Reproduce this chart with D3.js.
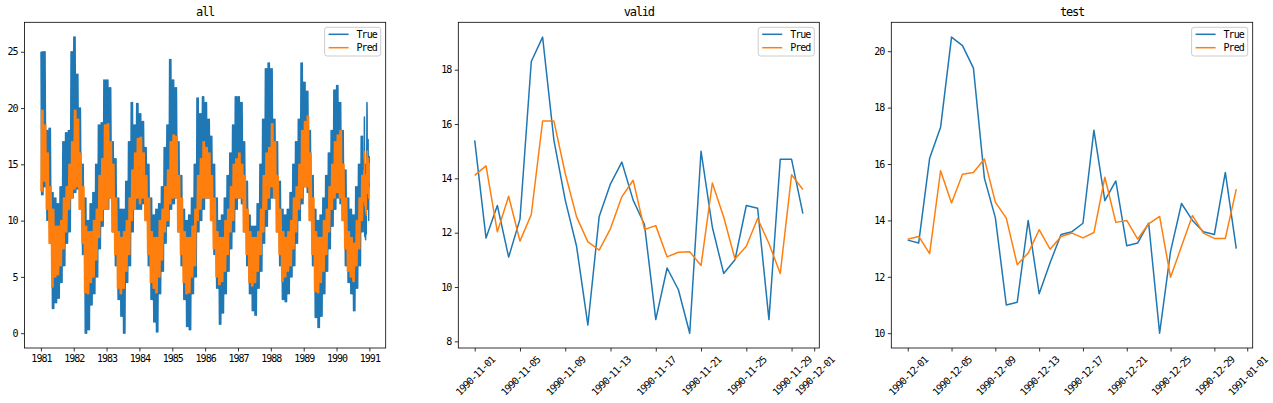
<!DOCTYPE html>
<html><head><meta charset="utf-8">
<script src="https://cdn.jsdelivr.net/npm/d3@7"></script>
<style>
body{margin:0;background:#fff}
text{font-family:"DejaVu Sans Mono",monospace;fill:#000}
</style>
</head><body>
<svg id="c" width="1273" height="403"></svg>
<script>
// ---------------- DATA ----------------
// "all" panel: monthly envelopes (Jan 1981 .. Oct 1990), read from the dense band
const trueHigh = [
 25.0,25.0,18.0,18.2,12.5,12.0,11.5,13.0,17.0,17.8,18.0,25.0,
 26.3,23.0,20.0,15.0,12.0,10.0,11.5,12.5,15.0,18.5,18.7,22.5,
 22.5,21.8,17.0,15.5,12.0,11.0,11.0,13.5,17.0,20.5,18.5,20.4,
 19.5,18.8,16.5,15.0,12.0,10.5,11.0,11.5,13.0,16.5,18.5,24.3,
 22.5,21.8,17.0,14.0,11.0,10.0,10.5,12.0,15.0,20.9,19.5,21.0,
 20.5,19.0,17.5,15.0,12.0,10.0,10.5,12.0,14.0,16.0,18.5,21.0,
 21.0,20.5,17.0,13.5,10.5,9.5,9.5,11.5,15.0,19.0,23.5,24.0,
 23.5,19.0,17.0,13.5,11.0,10.5,11.0,12.5,15.0,17.0,19.0,24.0,
 22.3,21.5,18.0,14.0,11.0,10.0,10.5,12.0,14.0,16.0,18.0,21.6,
 22.0,20.5,18.0,14.5,12.0,11.0,10.5,13.0,15.0,17.5];
const trueLow = [
 12.3,13.0,10.0,8.0,2.2,2.7,3.1,4.5,6.0,8.0,9.0,12.0,
 12.5,12.8,11.0,7.0,0.0,0.3,2.5,3.5,5.0,7.5,9.5,11.0,
 11.0,12.0,9.0,6.0,3.0,1.5,0.0,4.5,6.0,9.0,11.0,11.0,
 11.0,11.5,10.0,6.0,3.0,1.0,0.1,3.5,5.5,8.0,9.5,11.0,
 11.5,12.0,9.0,6.0,3.0,0.6,0.3,3.5,5.0,9.0,10.0,11.0,
 12.0,12.0,10.0,7.0,4.0,0.8,1.8,3.5,5.5,7.5,9.0,11.0,
 12.0,11.5,9.0,6.0,3.5,2.0,1.6,4.0,5.5,8.0,9.5,11.0,
 12.0,12.0,9.0,6.0,3.0,2.8,3.5,5.0,6.0,8.0,10.0,11.5,
 13.0,12.5,10.0,6.0,1.4,0.5,1.5,3.5,5.5,7.5,9.5,11.0,
 12.0,11.5,10.0,6.0,4.5,3.5,2.0,4.0,6.0,9.0];
const predHigh = [
 19.8,18.5,16.0,13.0,11.0,9.5,9.5,10.0,12.0,13.0,15.0,17.0,
 19.8,19.0,16.0,13.0,9.5,9.0,9.0,10.0,11.0,14.0,15.5,18.5,
 18.6,17.0,15.0,12.0,9.0,8.5,9.0,10.0,12.0,14.5,16.0,17.3,
 17.4,16.0,14.0,12.0,9.0,8.5,8.5,10.0,11.0,13.0,14.5,17.0,
 17.6,17.5,14.0,12.0,9.0,8.5,8.5,9.5,11.0,14.0,15.5,17.0,
 16.5,16.0,14.0,12.0,9.0,8.5,8.5,10.0,11.0,13.0,15.0,15.5,
 16.0,15.0,14.0,11.0,9.0,8.5,8.5,9.0,11.0,14.0,16.0,16.5,
 18.6,17.0,14.0,11.0,9.0,8.5,9.0,10.0,12.0,13.0,15.0,18.0,
 18.8,19.3,16.0,12.0,9.0,8.5,8.5,10.0,11.0,13.0,15.0,17.0,
 17.6,18.0,15.0,12.0,9.0,8.5,8.0,10.0,12.0,14.0];
const predLow = [
 12.6,13.5,11.0,8.0,4.1,5.0,5.2,6.0,7.5,9.0,11.0,12.0,
 12.8,13.0,11.0,8.0,3.6,3.5,4.5,5.0,6.5,8.5,10.0,11.0,
 11.0,12.0,9.0,7.0,4.0,3.5,4.0,5.5,7.0,10.0,11.0,12.0,
 11.5,12.0,10.0,7.0,4.5,4.0,3.6,5.0,6.5,9.0,10.0,11.5,
 12.0,12.0,9.0,7.0,4.5,3.5,3.6,5.0,6.0,10.0,11.0,12.0,
 12.0,12.0,10.0,7.5,5.0,4.3,4.6,5.5,7.0,9.0,10.0,12.0,
 12.0,12.0,9.0,7.0,4.5,4.2,4.5,5.5,7.0,9.0,11.0,12.0,
 13.0,12.0,9.0,7.0,4.6,5.0,5.5,6.0,7.5,9.0,11.0,12.0,
 13.0,13.0,10.0,7.0,3.7,3.6,4.5,5.5,7.0,9.0,11.0,12.0,
 12.5,12.0,10.0,7.5,5.5,5.0,4.6,6.0,7.5,10.0];

// "valid" panel: 1990-11-01 .. 1990-11-30
const validStart = "1990-11-01";
const validTrue = [15.4,11.8,13.0,11.1,12.5,18.3,19.2,15.4,13.2,11.5,8.6,12.6,13.8,14.6,13.2,12.3,8.8,10.7,9.9,8.3,15.0,12.2,10.5,11.0,13.0,12.9,8.8,14.7,14.7,12.7];
const validPred = [14.11,14.46,12.03,13.34,11.69,12.67,16.11,16.11,14.18,12.58,11.66,11.36,12.15,13.32,13.93,12.12,12.26,11.11,11.28,11.30,10.79,13.83,12.58,11.03,11.50,12.52,11.60,10.50,14.13,13.59];

// "test" panel: 1990-12-01 .. 1990-12-31
const testStart = "1990-12-01";
const testTrue = [13.3,13.2,16.2,17.3,20.5,20.2,19.4,15.5,14.1,11.0,11.1,14.0,11.4,12.5,13.5,13.6,13.9,17.2,14.7,15.4,13.1,13.2,13.9,10.0,12.9,14.6,14.0,13.6,13.5,15.7,13.0];
const testPred = [13.33,13.43,12.82,15.76,14.62,15.64,15.70,16.18,14.65,14.08,12.43,12.84,13.67,12.98,13.43,13.55,13.38,13.57,15.53,13.93,14.00,13.34,13.88,14.14,11.98,13.08,14.17,13.55,13.36,13.36,15.11];

// tick labels
const allXTicks = ["1981","1982","1983","1984","1985","1986","1987","1988","1989","1990","1991"];
const allYTicks = [0,5,10,15,20,25];
const validXTicks = ["1990-11-01","1990-11-05","1990-11-09","1990-11-13","1990-11-17","1990-11-21","1990-11-25","1990-11-29","1990-12-01"];
const validYTicks = [8,10,12,14,16,18];
const testXTicks = ["1990-12-01","1990-12-05","1990-12-09","1990-12-13","1990-12-17","1990-12-21","1990-12-25","1990-12-29","1991-01-01"];
const testYTicks = [10,12,14,16,18,20];
const titles = ["all","valid","test"];
const seriesNames = ["True","Pred"];
const allRange = ["1981-01-01","1990-12-31"];

// ---------------- BUILD ----------------
const parse = d3.utcParse("%Y-%m-%d");
const dayAdd = (s, i) => d3.utcDay.offset(parse(s), i);
function daily(start, arr){ return arr.map((v,i)=>({d:dayAdd(start,i), v})); }

// each month's envelope is traced as a zigzag between its high and low
const zigDays = [2,9,16,24];
const allTrue = [], allPred = [];
trueHigh.forEach((h,i)=>{
  const yr = 1981 + Math.floor(i/12), m = i%12;
  zigDays.forEach((dd,j)=>{
    const dt = new Date(Date.UTC(yr,m,dd));
    allTrue.push({d:dt, v: j%2 ? trueLow[i] : h});
    allPred.push({d:dt, v: j%2 ? predHigh[i] : predLow[i]});
  });
});
allTrue.push(...daily(validStart, validTrue), ...daily(testStart, testTrue));
allPred.push(...daily(validStart, validPred), ...daily(testStart, testPred));

const colors = ["#1f77b4","#ff7f0e"];
const svg = d3.select("#c");
const yTop = 22.3, yBot = 348;
const panels = [
  {x0:24.5, x1:385.7, t:allTrue, p:allPred, xr:allRange.map(parse), xt:allXTicks.map(s=>parse(s+"-01-01")), xl:allXTicks, yt:allYTicks, rot:false},
  {x0:458.3, x1:819.3, t:daily(validStart,validTrue), p:daily(validStart,validPred), xt:validXTicks.map(parse), xl:validXTicks, yt:validYTicks, rot:true},
  {x0:891.3, x1:1252.7, t:daily(testStart,testTrue), p:daily(testStart,testPred), xt:testXTicks.map(parse), xl:testXTicks, yt:testYTicks, rot:true}
];

panels.forEach((P, k)=>{
  const xr = P.xr || d3.extent(P.t, d=>d.d);
  const xspan = xr[1]-xr[0];
  const x = d3.scaleUtc().domain([new Date(+xr[0]-0.05*xspan), new Date(+xr[1]+0.05*xspan)]).range([P.x0, P.x1]);
  const ye = d3.extent(P.t.concat(P.p), d=>d.v);
  const ys = ye[1]-ye[0];
  const y = d3.scaleLinear().domain([ye[0]-0.05*ys, ye[1]+0.05*ys]).range([yBot, yTop]);
  const g = svg.append("g");
  const cid = "clip"+k;
  svg.append("clipPath").attr("id",cid).append("rect").attr("x",P.x0).attr("y",yTop).attr("width",P.x1-P.x0).attr("height",yBot-yTop);
  const line = d3.line().x(d=>x(d.d)).y(d=>y(d.v));
  [P.t, P.p].forEach((s,i)=>{
    g.append("path").datum(s).attr("d",line).attr("fill","none").attr("stroke",colors[i])
     .attr("stroke-width",1.5).attr("stroke-linejoin","round").attr("clip-path",`url(#${cid})`);
  });
  // axes
  const xa = g.append("g").attr("transform",`translate(0,${yBot})`)
    .call(d3.axisBottom(x).tickValues(P.xt).tickFormat((d,i)=>P.xl[i]).tickSize(3.5).tickPadding(3.5));
  const ya = g.append("g").attr("transform",`translate(${P.x0},0)`)
    .call(d3.axisLeft(y).tickValues(P.yt).tickFormat(d3.format("d")).tickSize(3.5).tickPadding(3.5));
  [xa,ya].forEach(a=>{
    a.select(".domain").remove();
    a.selectAll(".tick line").attr("stroke","#000").attr("stroke-width",0.8);
    a.selectAll("text").attr("font-size",10).attr("letter-spacing","-1px").attr("font-family","DejaVu Sans Mono").attr("fill","#000");
  });
  if(P.rot){
    xa.selectAll(".tick text").each(function(){
      const t = d3.select(this);
      const L = this.getComputedTextLength();
      const H = 9;
      const half = (L+H)*0.7071/2;
      t.attr("text-anchor","middle").attr("y",null).attr("dy","0.35em")
       .attr("transform",`translate(0,${7+half}) rotate(-45)`);
    });
  }
  // spines
  g.append("rect").attr("x",P.x0).attr("y",yTop).attr("width",P.x1-P.x0).attr("height",yBot-yTop)
    .attr("fill","none").attr("stroke","#000").attr("stroke-width",0.8);
  // title
  g.append("text").attr("x",(P.x0+P.x1)/2).attr("y",16).attr("text-anchor","middle")
    .attr("font-size",12).attr("letter-spacing","-1.2px").text(titles[k]);
  // legend
  const lg = g.append("g");
  const bx1 = P.x1-5, by0 = yTop+5;
  const texts = seriesNames.map((n,i)=>lg.append("text").attr("font-size",10).attr("letter-spacing","-1px").attr("dy","0.35em").text(n));
  const tw = d3.max(texts, t=>t.node().getComputedTextLength());
  const bw = 4+20+8+tw+4, bx0 = bx1-bw;
  lg.insert("rect","text").attr("x",bx0).attr("y",by0).attr("width",bw).attr("height",28.7).attr("rx",2.5)
    .attr("fill","#fff").attr("fill-opacity",0.8).attr("stroke","#ccc").attr("stroke-width",1);
  seriesNames.forEach((n,i)=>{
    const cy = by0+7+i*13.4;
    lg.append("line").attr("x1",bx0+4).attr("x2",bx0+24).attr("y1",cy).attr("y2",cy).attr("stroke",colors[i]).attr("stroke-width",1.5);
    texts[i].attr("x",bx0+32).attr("y",cy);
  });
});
</script></body></html>
